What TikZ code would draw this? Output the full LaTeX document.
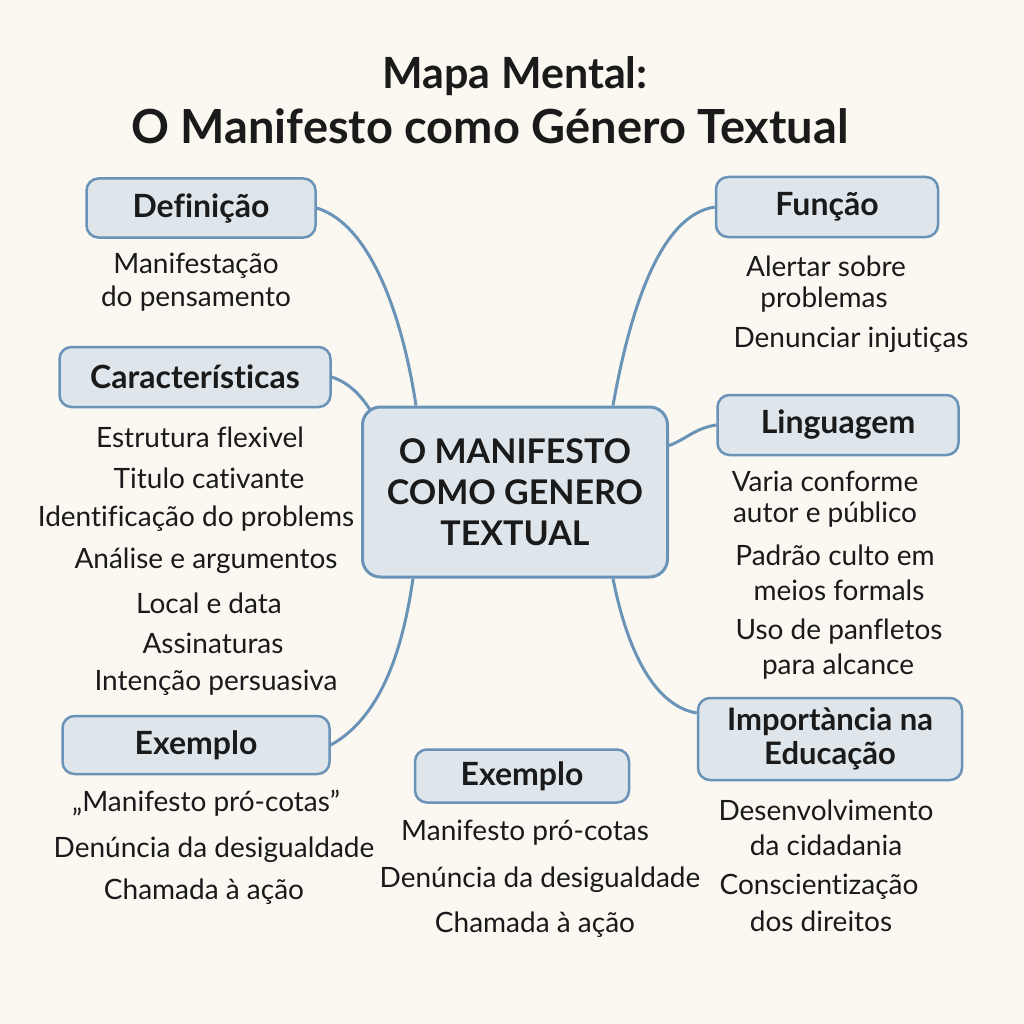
\documentclass[tikz,border=0pt]{standalone}
\usepackage{fontspec}
\setmainfont{Lato}[Ligatures=NoCommon]
\usetikzlibrary{calc}
\definecolor{bg}{HTML}{FBF7F1}
\definecolor{boxfill}{HTML}{DEE6EC}
\definecolor{boxline}{HTML}{6A93B8}
\definecolor{ink}{HTML}{1A1A1A}
\tikzset{
  catbox/.style={draw=boxline, fill=boxfill, line width=2.5pt, rounded corners=12pt, inner sep=0pt, text=ink, font=\fontsize{32}{36}\selectfont\bfseries},
  centerbox/.style={draw=boxline, fill=boxfill, line width=3pt, rounded corners=18pt, inner sep=0pt, text=ink, align=center, font=\fontsize{34}{41}\selectfont\bfseries},
  itemtxt/.style={text=ink, inner sep=0pt, align=center, font=\fontsize{28}{34}\selectfont},
  link/.style={draw=boxline, line width=3pt},
  ttl/.style={text=ink, inner sep=0pt, font=\fontsize{43}{48}\selectfont\bfseries}
}
\begin{document}
\begin{tikzpicture}[x=1pt,y=-1pt]
\fill[bg] (0,0) rectangle (1024,1024);
\useasboundingbox (0,0) rectangle (1024,1024);
% title
\node[ttl] (t1) at (515,76) {Mapa Mental:};
\node[ttl, font=\fontsize{47}{52}\selectfont\bfseries] (t2) at (490,126) {O Manifesto como Género Textual};
% center
\node[centerbox, minimum width=305pt, minimum height=170pt] (ctr) at (515,492) {O MANIFESTO\\COMO GENERO\\TEXTUAL};
% category boxes
\node[catbox, minimum width=229pt, minimum height=59pt] (def) at (201,208) {Definição};
\node[catbox, minimum width=271pt, minimum height=60pt] (car) at (195,377) {Características};
\node[catbox, minimum width=267pt, minimum height=58pt] (exl) at (196,745) {Exemplo};
\node[catbox, minimum width=214pt, minimum height=53pt] (exb) at (522,776) {Exemplo};
\node[catbox, minimum width=222pt, minimum height=60pt] (fun) at (827,207) {Função};
\node[catbox, minimum width=241pt, minimum height=60pt] (lin) at (838,425) {Linguagem};
\node[catbox, minimum width=264pt, minimum height=82pt, align=center, font=\fontsize{31}{34}\selectfont\bfseries] (imp) at (830,739) {Importància na\\Educação};
% connectors
\coordinate (cDef) at ($(ctr.north west)+(55,0)$);
\coordinate (cCar) at ($(ctr.north west)+(9,4)$);
\coordinate (cExl) at ($(ctr.south west)+(52,0)$);
\coordinate (cFun) at ($(ctr.north east)+(-56,0)$);
\coordinate (cLin) at ($(ctr.north east)+(0,40)$);
\coordinate (cImp) at ($(ctr.south east)+(-56,0)$);
\draw[link] (def.east) .. controls (372,225) and (403,320) .. (cDef);
\draw[link] (car.east) .. controls (352,384) and (362,398) .. (cCar);
\draw[link] (exl.east) .. controls (385,715) and (404,640) .. (cExl);
\draw[link] (fun.west) .. controls (660,215) and (630,310) .. (cFun);
\draw[link] (lin.west) .. controls (695,428) and (685,440) .. (cLin);
\draw[link] ($(imp.west)+(0,-26)$) .. controls (650,705) and (625,640) .. (cImp);
% texts
\node[itemtxt] (d1) at (196,266) {Manifestação};
\node[itemtxt] (d2) at (196,299) {do pensamento};
\node[itemtxt] (c1) at (200,437) {Estrutura flexivel};
\node[itemtxt] (c2) at (209,478) {Titulo cativante};
\node[itemtxt] (c3) at (196,519) {Identificação do problems};
\node[itemtxt] (c4) at (206,561) {Análise e argumentos};
\node[itemtxt] (c5) at (209,603) {Local e data};
\node[itemtxt] (c6) at (213,643) {Assinaturas};
\node[itemtxt] (c7) at (216,683) {Intenção persuasiva};
\node[itemtxt] (e1) at (206,803) {„Manifesto pró-cotas”};
\node[itemtxt] (e2) at (214,850) {Denúncia da desigualdade};
\node[itemtxt] (e3) at (204,892) {Chamada à ação};
\node[itemtxt] (b1) at (525,833) {Manifesto pró-cotas};
\node[itemtxt] (b2) at (540,880) {Denúncia da desigualdade};
\node[itemtxt] (b3) at (535,925) {Chamada à ação};
\node[itemtxt] (f1) at (826,266) {Alertar sobre};
\node[itemtxt] (f2) at (824,300) {problemas};
\node[itemtxt] (f3) at (851,340) {Denunciar injutiças};
\node[itemtxt] (l1) at (825,481) {Varia conforme};
\node[itemtxt] (l2) at (825,515) {autor e público};
\node[itemtxt] (l3) at (835,555) {Padrão culto em};
\node[itemtxt] (l4) at (839,590) {meios formals};
\node[itemtxt] (l5) at (839,632) {Uso de panfletos};
\node[itemtxt] (l6) at (838,667) {para alcance};
\node[itemtxt] (i1) at (826,810) {Desenvolvimento};
\node[itemtxt] (i2) at (826,845) {da cidadania};
\node[itemtxt] (i3) at (819,887) {Conscientização};
\node[itemtxt] (i4) at (821,921) {dos direitos};
\end{tikzpicture}
\end{document}
